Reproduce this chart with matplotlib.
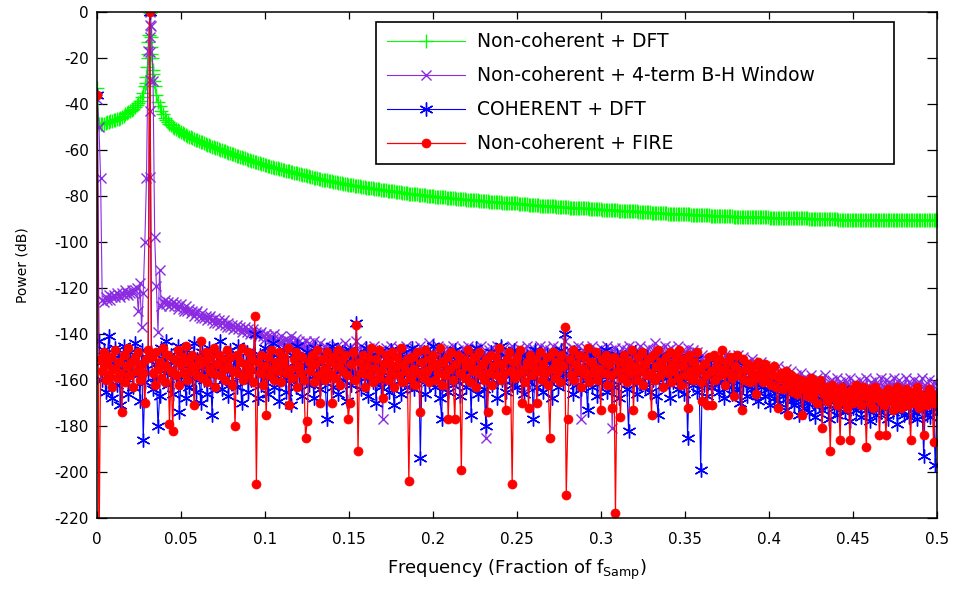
import numpy as np
import matplotlib
matplotlib.use("Agg")
import matplotlib.pyplot as plt

# spectrum bins 0 .. fs/2, 1024-point resolution
n_fft = 1024
bin_index = np.arange(513)
tone_bin = 32

# Non-coherent + DFT (dB), one row = 16 bins
green_db = [
    -33, -48.5, -48.5, -48.5, -48.5, -48.3, -48, -47.8, -47.5, -47.3, -47, -46.8, -46.5, -46.3, -46, -45.5,
    -45, -44.5, -44, -43.5, -43, -42.5, -42, -41.3, -40.5, -39.6, -38.5, -37, -35, -32, -28, -20,
    -0.5, -18, -27, -32, -36, -39, -41, -43, -44.5, -46, -47, -47.8, -48.5, -49.3, -50, -50.5,
    -51, -51.4, -51.8, -52.2, -52.6, -53, -53.4, -53.8, -54.1, -54.5, -54.8, -55.2, -55.5, -55.8, -56.1, -56.4,
    -56.7, -57, -57.3, -57.6, -57.9, -58.2, -58.5, -58.8, -59.0, -59.3, -59.6, -59.9, -60.1, -60.4, -60.6, -60.9,
    -61.1, -61.4, -61.6, -61.9, -62.1, -62.4, -62.6, -62.9, -63.1, -63.4, -63.6, -63.9, -64.1, -64.4, -64.6, -64.8,
    -65.0, -65.3, -65.5, -65.8, -66.0, -66.2, -66.4, -66.6, -66.8, -67.0, -67.2, -67.4, -67.6, -67.8, -68.0, -68.2,
    -68.4, -68.6, -68.7, -68.9, -69.0, -69.2, -69.4, -69.6, -69.8, -70.0, -70.1, -70.3, -70.5, -70.7, -70.9, -71.0,
    -71.2, -71.4, -71.6, -71.8, -72.0, -72.2, -72.3, -72.5, -72.6, -72.8, -72.9, -73.1, -73.2, -73.3, -73.4, -73.6,
    -73.7, -73.9, -74.0, -74.2, -74.3, -74.5, -74.6, -74.7, -74.8, -75.0, -75.1, -75.2, -75.3, -75.5, -75.6, -75.7,
    -75.8, -76.0, -76.1, -76.2, -76.3, -76.4, -76.5, -76.6, -76.7, -76.8, -76.9, -77.0, -77.1, -77.2, -77.3, -77.4,
    -77.5, -77.6, -77.7, -77.8, -77.9, -78.0, -78.1, -78.2, -78.3, -78.4, -78.5, -78.6, -78.7, -78.8, -78.9, -79.0,
    -79.0, -79.1, -79.2, -79.3, -79.4, -79.5, -79.6, -79.7, -79.7, -79.8, -79.9, -80.0, -80.0, -80.1, -80.2, -80.3,
    -80.3, -80.4, -80.5, -80.6, -80.6, -80.7, -80.8, -80.9, -80.9, -81.0, -81.0, -81.1, -81.1, -81.2, -81.3, -81.4,
    -81.4, -81.5, -81.5, -81.6, -81.7, -81.8, -81.8, -81.9, -81.9, -82.0, -82.0, -82.1, -82.2, -82.3, -82.3, -82.4,
    -82.4, -82.5, -82.5, -82.6, -82.6, -82.7, -82.7, -82.8, -82.8, -82.9, -82.9, -83.0, -83.0, -83.1, -83.1, -83.2,
    -83.2, -83.3, -83.4, -83.4, -83.5, -83.5, -83.6, -83.7, -83.8, -83.8, -83.9, -83.9, -84.0, -84.0, -84.1, -84.1,
    -84.2, -84.2, -84.3, -84.3, -84.4, -84.4, -84.5, -84.5, -84.6, -84.6, -84.7, -84.7, -84.8, -84.8, -84.9, -84.9,
    -85.0, -85.0, -85.0, -85.0, -85.1, -85.1, -85.2, -85.2, -85.3, -85.3, -85.4, -85.4, -85.5, -85.5, -85.6, -85.6,
    -85.7, -85.7, -85.8, -85.8, -85.9, -85.9, -86.0, -86.0, -86.0, -86.0, -86.1, -86.1, -86.2, -86.2, -86.3, -86.3,
    -86.4, -86.4, -86.5, -86.5, -86.6, -86.6, -86.6, -86.6, -86.7, -86.7, -86.8, -86.8, -86.9, -86.9, -87.0, -87.0,
    -87.1, -87.1, -87.2, -87.2, -87.2, -87.2, -87.3, -87.3, -87.4, -87.4, -87.5, -87.5, -87.6, -87.6, -87.6, -87.6,
    -87.7, -87.7, -87.8, -87.8, -87.9, -87.9, -87.9, -87.9, -88.0, -88.0, -88.1, -88.1, -88.2, -88.2, -88.2, -88.2,
    -88.3, -88.3, -88.4, -88.4, -88.4, -88.4, -88.5, -88.5, -88.5, -88.5, -88.6, -88.6, -88.6, -88.6, -88.7, -88.7,
    -88.7, -88.7, -88.8, -88.8, -88.9, -88.9, -88.9, -88.9, -89.0, -89.0, -89.0, -89.0, -89.1, -89.1, -89.1, -89.1,
    -89.2, -89.2, -89.2, -89.2, -89.3, -89.3, -89.3, -89.3, -89.3, -89.3, -89.4, -89.4, -89.4, -89.4, -89.4, -89.4,
    -89.5, -89.5, -89.5, -89.5, -89.5, -89.5, -89.6, -89.6, -89.6, -89.6, -89.6, -89.6, -89.7, -89.7, -89.7, -89.7,
    -89.7, -89.7, -89.8, -89.8, -89.8, -89.8, -89.9, -89.9, -89.9, -89.9, -89.9, -89.9, -90.0, -90.0, -90.0, -90.0,
    -90.1, -90.1, -90.1, -90.1, -90.2, -90.2, -90.2, -90.2, -90.3, -90.3, -90.3, -90.3, -90.3, -90.3, -90.4, -90.4,
    -90.4, -90.4, -90.4, -90.4, -90.4, -90.4, -90.4, -90.4, -90.4, -90.4, -90.4, -90.4, -90.4, -90.4, -90.4, -90.4,
    -90.4, -90.4, -90.5, -90.5, -90.5, -90.5, -90.5, -90.5, -90.5, -90.5, -90.5, -90.5, -90.5, -90.5, -90.5, -90.5,
    -90.5, -90.5, -90.6, -90.6, -90.6, -90.6, -90.6, -90.6, -90.6, -90.6, -90.6, -90.6, -90.6, -90.6, -90.6, -90.6,
    -90.6,
]
# extra samples on the main lobe of the non-coherent tone
green_lobe_freq = [0.0290, 0.0296, 0.0300, 0.0304, 0.0308, 0.0318, 0.0322, 0.0326, 0.0331, 0.0337]
green_lobe_db = [-31, -24, -18, -13, -10, -11, -15, -20, -25, -30]

# Non-coherent + 4-term B-H window (dB)
purple_db = [
    -38, -50, -72, -125, -126, -124, -125, -123, -125, -124, -123, -124, -122, -123, -124, -122,
    -123, -121, -122, -123, -122, -121, -122, -121, -120, -130, -118, -137, -122, -100, -72, -17,
    0, -6, -30, -98, -119, -139, -112, -128, -126, -125, -127, -126, -128, -127, -126, -128,
    -127, -129, -128, -127, -129, -130, -128, -130, -129, -131, -130, -132, -131, -130, -132, -133,
    -131, -133, -132, -134, -133, -132, -134, -135, -133, -135, -134, -136, -135, -134, -136, -137,
    -135, -137, -136, -138, -137, -136, -138, -137, -139, -138, -137, -139, -138, -140, -139, -138,
    -140, -139, -141, -140, -139, -141, -142, -140, -141, -143, -141, -142, -140, -143, -142, -144,
    -141, -143, -145, -142, -144, -143, -141, -145, -144, -142, -146, -143, -145, -144, -147, -143,
    -146, -144, -148, -145, -143, -150, -146, -152, -144, -149, -147, -145, -155, -148, -146, -151,
    -147, -153, -145, -149, -157, -146, -151, -144, -154, -148, -146, -160, -150, -147, -143, -152,
    -148, -145, -156, -150, -147, -153, -146, -158, -149, -145, -152, -148, -162, -147, -177, -151,
    -146, -154, -149, -145, -157, -150, -147, -152, -146, -159, -148, -151, -145, -155, -149, -147,
    -153, -146, -150, -161, -148, -145, -152, -149, -156, -147, -144, -151, -148, -158, -146, -150,
    -145, -154, -149, -147, -164, -150, -146, -153, -148, -145, -157, -151, -147, -149, -155, -146,
    -150, -148, -145, -158, -152, -147, -149, -146, -154, -150, -145, -160, -148, -185, -151, -147,
    -153, -146, -149, -157, -145, -151, -148, -160, -146, -150, -147, -155, -149, -145, -152, -148,
    -158, -146, -150, -147, -154, -149, -145, -163, -148, -151, -146, -150, -156, -147, -145, -152,
    -148, -146, -157, -150, -147, -153, -145, -149, -155, -146, -150, -148, -159, -143, -151, -147,
    -154, -148, -146, -158, -150, -145, -152, -177, -147, -149, -146, -155, -148, -151, -145, -160,
    -149, -147, -153, -146, -150, -148, -156, -145, -151, -147, -181, -149, -146, -154, -148, -152,
    -146, -150, -157, -147, -145, -153, -149, -146, -162, -148, -151, -145, -156, -149, -147, -153,
    -146, -150, -159, -147, -144, -152, -148, -146, -156, -149, -145, -151, -147, -158, -146, -150,
    -148, -155, -145, -149, -152, -147, -161, -148, -146, -153, -149, -147, -156, -150, -148, -158,
    -151, -149, -154, -152, -160, -153, -151, -156, -154, -162, -150, -155, -152, -157, -153, -149,
    -152, -156, -150, -155, -158, -151, -154, -149, -157, -153, -150, -156, -152, -159, -154, -151,
    -155, -157, -153, -160, -156, -152, -158, -154, -161, -157, -155, -159, -156, -163, -158, -154,
    -160, -157, -162, -158, -155, -163, -159, -156, -164, -160, -158, -165, -161, -157, -163, -159,
    -162, -166, -160, -158, -164, -161, -167, -159, -163, -160, -165, -162, -158, -168, -161, -164,
    -160, -166, -162, -159, -165, -161, -168, -163, -160, -167, -162, -159, -164, -170, -161, -163,
    -166, -160, -164, -162, -169, -159, -163, -167, -161, -165, -160, -168, -162, -164, -159, -166,
    -163, -160, -167, -161, -165, -162, -159, -168, -163, -160, -166, -162, -164, -159, -169, -161,
    -165, -162, -160, -167, -163, -161, -166, -159, -164, -162, -168, -160, -165, -163, -161, -166,
    -164,
]
# main-lobe samples of the windowed tone
bh_lobe_db = [-5.7, -10.8, -17.3, -29.7, -42.8, -71.9]

# COHERENT + DFT (dB)
blue_db = [
    -36, -143, -152, -160, -147, -165, -150, -141, -157, -168, -153, -146, -162, -149, -171, -155,
    -145, -159, -151, -166, -148, -156, -163, -144, -158, -152, -169, -147, -186, -161, -150, -157,
    0, -148, -164, -153, -159, -180, -167, -146, -151, -157, -143, -162, -155, -149, -166, -152,
    -158, -145, -174, -161, -150, -156, -168, -147, -163, -153, -159, -144, -165, -151, -157, -170,
    -148, -160, -154, -166, -146, -158, -175, -152, -162, -149, -156, -143, -164, -153, -159, -150,
    -167, -147, -161, -155, -151, -163, -145, -158, -170, -152, -157, -148, -165, -154, -160, -150,
    -140, -156, -168, -149, -162, -153, -146, -159, -166, -151, -157, -144, -163, -155, -150, -169,
    -152, -158, -147, -165, -154, -160, -171, -149, -156, -163, -145, -158, -151, -167, -153, -160,
    -148, -162, -155, -150, -168, -146, -159, -153, -164, -157, -149, -161, -177, -152, -158, -145,
    -163, -154, -150, -166, -156, -148, -160, -152, -169, -155, -147, -162, -151, -158, -135, -157,
    -150, -164, -153, -159, -146, -167, -155, -149, -161, -152, -170, -156, -148, -163, -154, -160,
    -151, -158, -165, -147, -162, -171, -153, -157, -149, -166, -155, -160, -150, -163, -152, -159,
    -146, -164, -154, -160, -151, -194, -157, -148, -166, -153, -161, -150, -158, -145, -163, -155,
    -152, -168, -177, -149, -159, -154, -165, -151, -157, -162, -147, -160, -153, -167, -150, -158,
    -156, -163, -149, -155, -175, -152, -160, -146, -166, -154, -158, -150, -164, -180, -153, -159,
    -148, -162, -155, -151, -168, -157, -145, -160, -153, -165, -150, -158, -154, -162, -147, -156,
    -163, -152, -158, -149, -166, -155, -150, -161, -154, -159, -177, -147, -163, -153, -157, -151,
    -165, -156, -149, -160, -152, -168, -155, -158, -150, -163, -154, -147, -161, -140, -157, -152,
    -159, -153, -166, -148, -162, -155, -150, -164, -157, -151, -160, -173, -154, -149, -163, -156,
    -152, -167, -158, -150, -161, -154, -147, -165, -156, -160, -151, -163, -155, -149, -168, -157,
    -153, -160, -150, -164, -182, -156, -152, -159, -148, -166, -155, -161, -151, -157, -163, -150,
    -158, -165, -154, -160, -152, -167, -175, -157, -149, -162, -155, -159, -151, -168, -156, -161,
    -153, -158, -164, -150, -160, -155, -166, -152, -185, -159, -154, -162, -157, -151, -165, -160,
    -199, -156, -162, -153, -167, -158, -155, -163, -151, -160, -157, -165, -154, -161, -168, -156,
    -159, -163, -153, -166, -160, -157, -164, -152, -170, -158, -162, -155, -167, -161, -156, -164,
    -158, -166, -161, -169, -155, -163, -160, -167, -157, -164, -171, -159, -162, -168, -165, -160,
    -170, -163, -167, -161, -173, -166, -162, -169, -164, -171, -167, -163, -175, -168, -165, -172,
    -166, -170, -174, -164, -169, -167, -176, -165, -171, -168, -173, -163, -170, -166, -177, -169,
    -165, -172, -168, -175, -166, -171, -169, -164, -174, -170, -167, -178, -165, -172, -169, -173,
    -167, -171, -176, -168, -165, -173, -170, -178, -166, -172, -169, -175, -167, -171, -174, -168,
    -172, -166, -177, -170, -168, -174, -165, -171, -179, -169, -173, -167, -175, -170, -166, -176,
    -171, -168, -174, -169, -177, -172, -166, -173, -193, -170, -175, -168, -176, -171, -172, -197,
    -172,
]

# Non-coherent + FIRE (dB); -240 is below the axis
red_db = [
    -36, -240, -151, -156, -148, -160, -153, -158, -150, -163, -155, -147, -159, -152, -157, -174,
    -149, -161, -154, -146, -158, -152, -163, -150, -156, -148, -160, -153, -157, -170, -151, -147,
    0, -150, -157, -162, -148, -155, -152, -159, -146, -161, -154, -149, -179, -156, -182, -151,
    -158, -147, -162, -153, -150, -157, -145, -160, -152, -156, -149, -171, -154, -158, -151, -143,
    -159, -152, -148, -161, -155, -150, -157, -146, -163, -153, -149, -158, -151, -155, -160, -147,
    -154, -150, -162, -156, -180, -149, -157, -152, -146, -160, -153, -158, -148, -155, -151, -161,
    -132, -205, -152, -157, -149, -162, -154, -175, -150, -158, -147, -155, -160, -152, -156, -148,
    -161, -153, -150, -157, -146, -171, -155, -159, -151, -148, -163, -154, -157, -150, -160, -185,
    -178, -152, -156, -149, -161, -153, -147, -158, -170, -151, -155, -160, -148, -157, -152, -170,
    -150, -159, -154, -147, -162, -151, -156, -149, -158, -177, -170, -153, -148, -160, -136, -191,
    -152, -157, -149, -163, -154, -150, -158, -146, -161, -155, -151, -159, -147, -156, -168, -153,
    -149, -160, -152, -157, -148, -163, -154, -150, -158, -146, -161, -153, -156, -151, -204, -159,
    -150, -155, -162, -148, -157, -174, -152, -159, -147, -156, -161, -151, -154, -149, -160, -153,
    -157, -146, -162, -152, -158, -150, -177, -155, -148, -160, -177, -153, -149, -157, -199, -151,
    -159, -154, -147, -161, -152, -156, -150, -163, -155, -148, -158, -153, -160, -151, -174, -157,
    -149, -162, -154, -150, -158, -146, -160, -153, -157, -173, -151, -148, -156, -205, -152, -159,
    -150, -157, -147, -170, -155, -161, -152, -172, -149, -158, -154, -151, -170, -156, -148, -160,
    -153, -157, -150, -162, -185, -155, -148, -159, -152, -156, -161, -149, -154, -137, -210, -177,
    -151, -158, -147, -160, -153, -156, -149, -163, -155, -150, -158, -146, -161, -152, -157, -154,
    -148, -160, -155, -173, -151, -157, -149, -162, -153, -158, -172, -150, -218, -156, -152, -176,
    -159, -149, -155, -161, -152, -157, -147, -173, -154, -160, -150, -156, -148, -162, -153, -158,
    -151, -157, -175, -149, -160, -154, -147, -158, -152, -163, -155, -150, -157, -148, -161, -153,
    -156, -150, -159, -147, -162, -154, -151, -158, -172, -149, -156, -160, -152, -157, -148, -155,
    -161, -169, -153, -158, -171, -150, -156, -171, -149, -160, -154, -151, -158, -147, -155, -162,
    -152, -157, -150, -159, -167, -154, -149, -158, -156, -173, -151, -160, -155, -153, -161, -157,
    -154, -159, -166, -152, -158, -156, -161, -153, -160, -157, -155, -162, -158, -154, -163, -172,
    -159, -157, -164, -160, -156, -175, -162, -158, -165, -161, -159, -166, -163, -160, -175, -164,
    -161, -167, -163, -159, -168, -165, -162, -170, -164, -160, -181, -166, -163, -169, -165, -191,
    -162, -168, -164, -171, -166, -186, -163, -169, -165, -172, -167, -186, -164, -170, -166, -162,
    -168, -165, -171, -163, -167, -189, -164, -170, -166, -172, -163, -168, -165, -184, -169, -166,
    -171, -184, -164, -169, -167, -173, -165, -170, -163, -168, -172, -166, -169, -164, -171, -167,
    -186, -165, -170, -168, -163, -172, -166, -169, -184, -167, -171, -164, -169, -166, -187, -170,
    -167,
]

labels = ["Non-coherent + DFT", "Non-coherent + 4-term B-H Window",
          "COHERENT + DFT", "Non-coherent + FIRE"]
xtick_vals = [0, 0.05, 0.1, 0.15, 0.2, 0.25, 0.3, 0.35, 0.4, 0.45, 0.5]
xtick_labels = ["0", "0.05", "0.1", "0.15", "0.2", "0.25", "0.3", "0.35", "0.4", "0.45", "0.5"]
ytick_vals = list(range(-220, 1, 20))

freq = bin_index / n_fft
tone_freq = tone_bin / n_fft

# the reference text is wide, so DejaVu Sans is the closest match
plt.rcParams["font.family"] = ["DejaVu Sans"]
plt.rcParams["axes.unicode_minus"] = False
plt.rcParams["mathtext.fontset"] = "dejavusans"

fig = plt.figure(figsize=(9.54, 5.91), dpi=100)
ax = fig.add_axes([0.102, 0.1235, 0.880, 0.856])

ax.plot(freq, green_db, color="#00ff00", marker="+", ms=10, mew=1.0, lw=0.8, label=labels[0])
ax.plot(green_lobe_freq, green_lobe_db, color="#00ff00", marker="+", ms=10, mew=1.0, lw=0)
ax.plot(freq, purple_db, color="#8a2be2", marker="x", ms=7, mew=1.0, lw=0.8, label=labels[1])
ax.plot([tone_freq] * len(bh_lobe_db), bh_lobe_db, color="#8a2be2", marker="x", ms=7, mew=1.0, lw=0)
ax.plot(freq, blue_db, color="#0000ff", marker=(6, 2, 0), ms=10, mew=1.0, lw=0.8, label=labels[2])
ax.plot(freq, red_db, color="#ff0000", marker="o", ms=6.5, mew=0.5, lw=0.9, label=labels[3])

ax.set_xlim(0, 0.5)
ax.set_ylim(-220, 0)
ax.set_xticks(xtick_vals)
ax.set_xticklabels(xtick_labels, fontsize=11)
ax.set_yticks(ytick_vals)
ax.set_yticklabels([str(v) for v in ytick_vals], fontsize=11)
ax.tick_params(direction="in", top=True, right=True, width=0.9)
ax.tick_params(axis="x", length=5, pad=10)
ax.tick_params(axis="y", length=7, pad=6)
for sp in ax.spines.values():
    sp.set_linewidth(1.1)

ax.set_xlabel("Frequency (Fraction of f$_{\\mathrm{Samp}}$)", fontsize=13, labelpad=8)
ax.set_ylabel("Power (dB)", fontsize=10, labelpad=18)

leg = ax.legend(loc="upper left", bbox_to_anchor=(0.332, 0.0, 0.617, 0.981), mode="expand",
                fontsize=13.5, handlelength=4.2, handletextpad=0.6, labelspacing=0.8,
                borderpad=0.57, borderaxespad=0, fancybox=False, edgecolor="black",
                framealpha=1, numpoints=1)
leg.get_frame().set_linewidth(1.2)

fig.savefig("out.png", dpi=100)
